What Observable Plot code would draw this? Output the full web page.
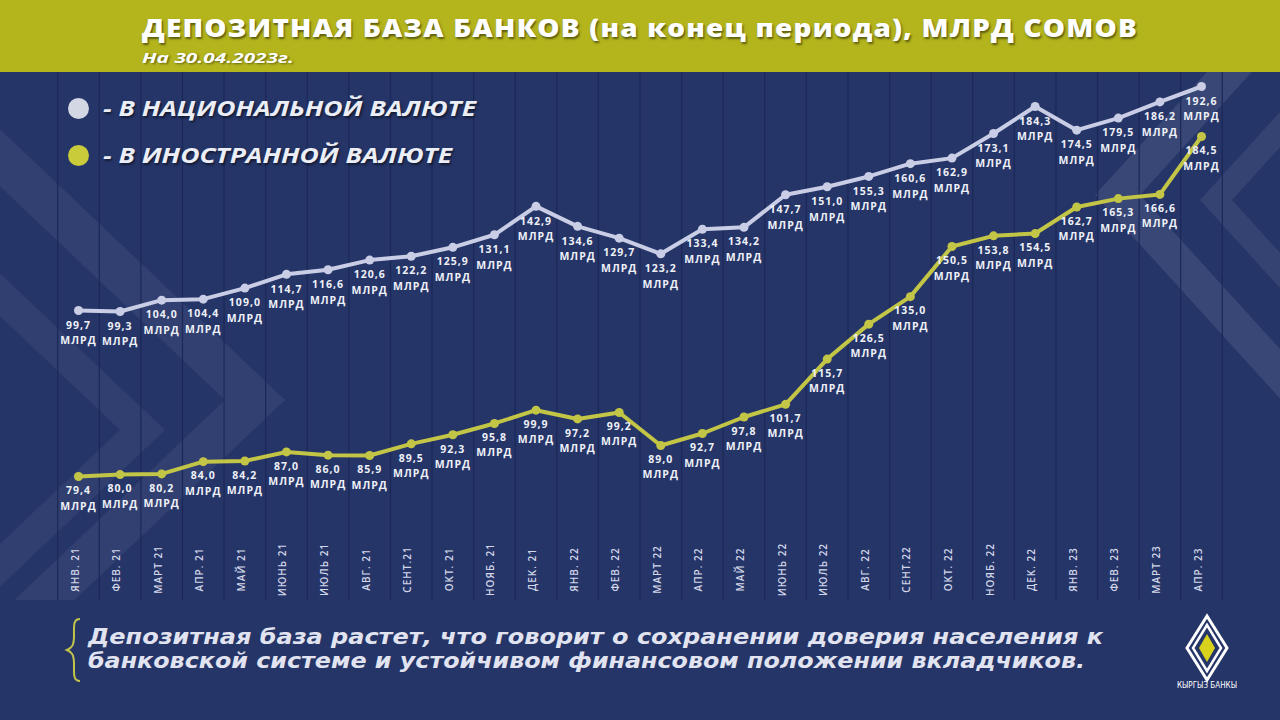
<!DOCTYPE html>
<html><head><meta charset="utf-8">
<script src="https://cdn.jsdelivr.net/npm/d3@7"></script>
<script src="https://cdn.jsdelivr.net/npm/@observablehq/plot@0.6"></script>
<style>
html,body{margin:0;padding:0}
body{width:1280px;height:720px;overflow:hidden;background:#253568;position:relative;font-family:"Open Sans",sans-serif}
#bg{position:absolute;left:0;top:0}
#header{position:absolute;left:0;top:0;width:1280px;height:72px;background:#b4b51c}
#title{position:absolute;left:142px;top:11px;font-weight:800;font-size:24px;color:#fff;letter-spacing:1px;white-space:nowrap;text-shadow:1px 2px 2px rgba(0,0,0,.5);transform-origin:left center}
#subtitle{position:absolute;left:142px;top:47px;font-weight:700;font-style:italic;font-size:15px;color:#fff;white-space:nowrap;text-shadow:1px 1px 2px rgba(0,0,0,.45);transform-origin:left center}
#chart{position:absolute;left:0;top:72px}
#chart svg text{letter-spacing:1px}
.leg{position:absolute;left:68px;height:24px;display:flex;align-items:center}
.leg .sw{width:21px;height:21px;border-radius:50%;margin-right:14px}
.leg .tx{font-weight:700;font-style:italic;font-size:21px;color:#eceef6;white-space:nowrap;text-shadow:1px 2px 2px rgba(0,0,0,.5);transform-origin:left center}
.cap{position:absolute;left:88px;font-family:"DejaVu Sans Condensed","DejaVu Sans",sans-serif;font-weight:700;font-style:italic;font-size:21px;line-height:22px;height:22px;color:#e1e4f0;white-space:nowrap;transform-origin:left center}
#logo{position:absolute;left:1165px;top:612px}
</style></head>
<body>
<svg id="bg" width="1280" height="720"></svg>
<div id="header"></div>
<div id="title">ДЕПОЗИТНАЯ БАЗА БАНКОВ (на конец периода), МЛРД СОМОВ</div>
<div id="subtitle">На 30.04.2023г.</div>
<div id="chart"></div>
<div class="leg" style="top:96px"><div class="sw" style="background:#d3d6e3"></div><div class="tx" id="leg1">- В НАЦИОНАЛЬНОЙ ВАЛЮТЕ</div></div>
<div class="leg" style="top:143px"><div class="sw" style="background:#c9cb3b"></div><div class="tx" id="leg2">- В ИНОСТРАННОЙ ВАЛЮТЕ</div></div>
<div class="cap" id="cap1" style="top:626px">Депозитная база растет, что говорит о сохранении доверия населения к</div>
<div class="cap" id="cap2" style="top:650px">банковской системе и устойчивом финансовом положении вкладчиков.</div>
<svg id="logo" width="84" height="80">
  <polygon points="42,4 62,36 42,68 22,36" fill="none" stroke="#fff" stroke-width="3"/>
  <polygon points="42,13 56,36 42,59 28,36" fill="none" stroke="#fff" stroke-width="2.5"/>
  <polygon points="42,22 50,36 42,50 34,36" fill="#d8d21c"/>
  <text x="42" y="76" text-anchor="middle" fill="#fff" font-family="Liberation Sans Narrow, DejaVu Sans Condensed, sans-serif" font-size="8">КЫРГЫЗ БАНКЫ</text>
</svg>
<script>
const months = ["ЯНВ. 21","ФЕВ. 21","МАРТ 21","АПР. 21","МАЙ 21","ИЮНЬ 21","ИЮЛЬ 21","АВГ. 21","СЕНТ.21","ОКТ. 21","НОЯБ. 21","ДЕК. 21","ЯНВ. 22","ФЕВ. 22","МАРТ 22","АПР. 22","МАЙ 22","ИЮНЬ 22","ИЮЛЬ 22","АВГ. 22","СЕНТ.22","ОКТ. 22","НОЯБ. 22","ДЕК. 22","ЯНВ. 23","ФЕВ. 23","МАРТ 23","АПР. 23"];
const national = [99.7,99.3,104.0,104.4,109.0,114.7,116.6,120.6,122.2,125.9,131.1,142.9,134.6,129.7,123.2,133.4,134.2,147.7,151.0,155.3,160.6,162.9,173.1,184.3,174.5,179.5,186.2,192.6];
const foreign = [79.4,80.0,80.2,84.0,84.2,87.0,86.0,85.9,89.5,92.3,95.8,99.9,97.2,99.2,89.0,92.7,97.8,101.7,115.7,126.5,135.0,150.5,153.8,154.5,162.7,165.3,166.6,184.5];
const unit = "МЛРД";

// background decoration: chevrons and caption brace
(function(){
  const bg = d3.select("#bg");
  function chevR(T, Y0, w, s, op){
    const pts = [[T-(Y0-72)/s,72],[T,Y0],[T-(600-Y0)/s,600],[T-w-(600-Y0)/s,600],[T-w,Y0],[T-w-(Y0-72)/s,72]];
    bg.append("polygon").attr("points", pts.map(p=>p.join(",")).join(" ")).attr("fill","#ffffff").attr("opacity",op);
  }
  function chevL(T, Y0, w, s, op){
    const pts = [[T+(Y0-72)/s,72],[T,Y0],[T+(600-Y0)/s,600],[T+w+(600-Y0)/s,600],[T+w,Y0],[T+w+(Y0-72)/s,72]];
    bg.append("polygon").attr("points", pts.map(p=>p.join(",")).join(" ")).attr("fill","#ffffff").attr("opacity",op);
  }
  chevR(285, 400, 60, 0.95, 0.06);
  chevR(165, 430, 45, 0.95, 0.05);
  chevL(1095, 195, 45, 1.1, 0.09);
  chevL(1200, 200, 32, 1.1, 0.07);
  bg.append("path")
    .attr("d", "M80,619 C73,619 74,626 74,636 C74,645 72,648 67,650 C72,652 74,655 74,664 C74,674 73,681 80,681")
    .attr("fill", "none").attr("stroke", "#c2c44a").attr("stroke-width", 2);
})();

const idx = d3.range(months.length);
const natRows = idx.map(i => ({i, v: national[i]}));
const forRows = idx.map(i => ({i, v: foreign[i]}));
// secondary (foreign-currency) axis aligned onto the primary y scale
const foreignToY = d3.scaleLinear().domain([79.4, 184.5]).range([30.85, 171.86]);
const fmt = v => v.toFixed(1).replace(".", ",") + "\n" + unit;

const natColor = "#c9cde5", forColor = "#c3c546";
const chart = Plot.plot({
  width: 1280, height: 540,
  marginTop: 0, marginBottom: 12, marginLeft: 0, marginRight: 0,
  style: {background: "transparent", overflow: "visible", fontFamily: "Open Sans, sans-serif"},
  x: {domain: [0, 27], range: [78, 1201], axis: null},
  y: {domain: [99.7, 192.6], range: [238, 14], axis: null},
  marks: [
    Plot.ruleX(d3.range(29), {x: d => d - 0.5, stroke: "#1b2857", strokeWidth: 1.2}),
    Plot.line(natRows, {x: "i", y: "v", stroke: natColor, strokeWidth: 4}),
    Plot.dot(natRows, {x: "i", y: "v", r: 4.5, fill: natColor}),
    Plot.line(forRows, {x: "i", y: d => foreignToY(d.v), stroke: forColor, strokeWidth: 4}),
    Plot.dot(forRows, {x: "i", y: d => foreignToY(d.v), r: 4.5, fill: forColor}),
    Plot.text(natRows, {x: "i", y: "v", text: d => fmt(d.v), lineAnchor: "top", dy: 7, lineHeight: 1.5, fill: "#eef0f7", fontSize: 10.5, fontWeight: 700}),
    Plot.text(forRows, {x: "i", y: d => foreignToY(d.v), text: d => fmt(d.v), lineAnchor: "top", dy: 7, lineHeight: 1.45, fill: "#eef0f7", fontSize: 10.5, fontWeight: 700}),
    Plot.text(idx, {x: d => d, frameAnchor: "bottom", text: d => months[d], rotate: -90, dy: -31, fill: "#d3d7e8", fontSize: 10, fontWeight: 600})
  ]
});
document.getElementById("chart").appendChild(chart);

function fit(id, w){
  const el = document.getElementById(id);
  const r = el.getBoundingClientRect().width;
  el.style.transform = `scaleX(${w / r})`;
}
fit("title", 996);
fit("subtitle", 152);
fit("leg1", 373);
fit("leg2", 349);
fit("cap1", 1015);
fit("cap2", 997);
</script>
</body></html>
